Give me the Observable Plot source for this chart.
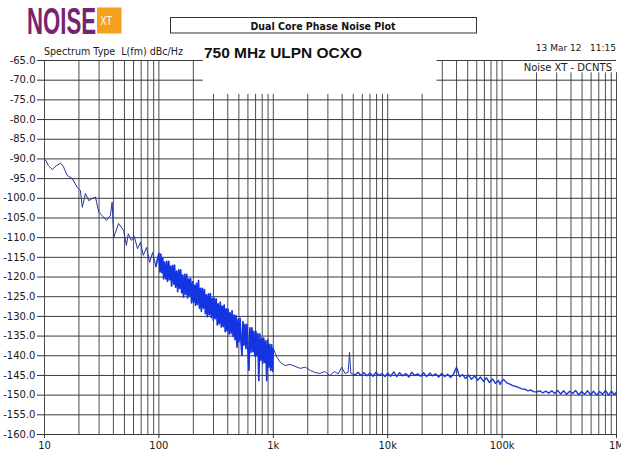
<!DOCTYPE html>
<html>
<head>
<meta charset="utf-8">
<script src="https://cdn.jsdelivr.net/npm/d3@7"></script>
<script src="https://cdn.jsdelivr.net/npm/@observablehq/plot@0.6"></script>
<style>
  body { margin: 0; background: #fff; }
  #wrap { position: relative; width: 621px; height: 454px; overflow: hidden; background: #fff; }
  #wrap svg.overlay { position: absolute; left: 0; top: 0; pointer-events: none; }
</style>
</head>
<body>
<div id="wrap"></div>
<script>
// Single-sideband phase noise L(f), [offset frequency Hz, level dBc/Hz]
const closeIn = [
  [10, -90.2], [10.3, -90.4], [10.8, -91.7], [11.7, -92.7], [12.7, -91.7], [13.8, -91.1],
  [14.6, -91.9], [15.8, -94.2], [17.5, -95.0], [19.3, -97.2], [20.6, -98.0], [21.4, -102.3],
  [22.8, -98.8], [24.4, -100.6], [26.1, -100.1], [27.9, -99.7], [29.8, -103.5], [31.9, -104.4],
  [34.8, -105.6], [37.6, -104.4], [39.0, -101.0], [40.3, -109.9], [44.4, -106.4], [49.2, -108.2],
  [52, -112.0], [54, -109.0], [57.5, -110.7], [61, -109.7], [65, -112.8], [69, -111.2],
  [73, -114.5], [78, -112.5], [83, -116.3], [88, -113.8], [94, -117.3]
];

// 100 Hz .. 1 kHz: dense FFT bins, alternating upper / lower edge of the trace
const denseBand = [
  [100, -114.0], [102, -118.7], [104, -114.2], [106, -118.9], [108, -115.1], [110, -120.5],
  [112, -116.2], [115, -120.5], [117, -116.0], [119, -121.1], [122, -116.0], [124, -120.7],
  [127, -117.2], [129, -122.3], [132, -117.1], [135, -121.8], [137, -117.0], [140, -122.6],
  [143, -118.5], [146, -123.7], [149, -118.2], [152, -122.9], [155, -118.2], [158, -124.0],
  [161, -119.5], [164, -125.1], [168, -119.3], [171, -124.4], [175, -119.3], [178, -125.3],
  [182, -120.5], [185, -124.9], [189, -120.4], [193, -126.6], [197, -121.2], [201, -126.4],
  [205, -122.1], [209, -127.2], [213, -121.6], [217, -127.0], [222, -120.9], [226, -127.9],
  [231, -122.9], [235, -128.7], [240, -122.9], [245, -127.9], [250, -123.2], [255, -129.3],
  [260, -124.5], [265, -130.1], [271, -124.3], [276, -129.6], [282, -124.2], [287, -130.3],
  [293, -125.5], [299, -131.0], [305, -125.4], [311, -130.6], [317, -125.6], [324, -132.2],
  [330, -126.8], [337, -131.9], [344, -126.4], [351, -132.7], [358, -127.4], [365, -132.6],
  [372, -127.1], [380, -133.9], [387, -128.1], [395, -133.7], [403, -128.2], [411, -134.5],
  [419, -129.1], [428, -134.3], [436, -128.6], [445, -135.1], [454, -129.7], [463, -135.9],
  [472, -129.8], [482, -137.8], [492, -130.7], [501, -136.4], [512, -130.5], [522, -136.4],
  [532, -139.9], [543, -131.3], [554, -137.3], [565, -132.0], [577, -138.2], [588, -132.0],
  [600, -138.1], [612, -143.7], [624, -132.9], [637, -139.1], [650, -132.9], [663, -139.0],
  [676, -133.8], [690, -140.1], [704, -133.8], [718, -140.0], [732, -134.4], [747, -146.3],
  [762, -134.5], [777, -141.1], [793, -135.6], [809, -141.9], [825, -135.5], [841, -141.7],
  [858, -136.2], [876, -146.3], [893, -136.0], [911, -142.9], [929, -137.1], [948, -143.7],
  [967, -137.2], [986, -143.9], [1000, -138.2]
];

// 1 kHz .. 5 kHz
const midRange = [
  [1077, -140.4], [1155, -141.7], [1270, -142.5], [1400, -142.2], [1550, -142.7], [1720, -143.2],
  [1900, -142.9], [2100, -143.7], [2300, -144.2], [2550, -144.5], [2820, -144.0], [3100, -145.0],
  [3430, -144.0], [3700, -144.6], [3960, -142.9], [4240, -144.5], [4510, -144.2], [4640, -139.1],
  [4760, -144.5], [5200, -144.8]
];

// 5 kHz .. 1 MHz: noise floor
const noiseFloor = [
  [5500, -144.2], [5840, -145.0], [6200, -144.3], [6590, -145.1], [7000, -144.4], [7430, -145.2],
  [7890, -144.2], [8380, -145.0], [8900, -144.5], [9450, -145.3], [10000, -144.4], [10600, -145.2],
  [11300, -144.1], [12000, -145.3], [12700, -144.3], [13500, -145.1], [14400, -144.5], [15300, -145.4],
  [16200, -144.2], [17200, -145.0], [18300, -144.6], [19400, -145.2], [20600, -144.3], [21900, -145.3],
  [23300, -144.4], [24700, -145.1], [26300, -144.6], [27900, -145.4], [29600, -144.5], [31500, -145.3],
  [33400, -144.7], [35500, -145.5], [37700, -144.6], [40000, -142.9], [42500, -145.3], [45100, -144.8],
  [47900, -145.8], [50900, -144.9], [54100, -146.0], [57400, -145.1], [61000, -146.2], [64800, -145.4],
  [68800, -146.5], [73000, -145.6], [77600, -146.8], [82400, -145.9], [87500, -147.0], [92900, -146.3],
  [96100, -147.3], [98600, -146.6], [103000, -146.0], [110000, -146.9], [117000, -147.2], [124000, -147.6],
  [132000, -147.8], [140000, -148.1], [149000, -148.4], [158000, -148.5], [168000, -148.9], [178000, -148.7],
  [189000, -149.1], [201000, -149.2], [213000, -148.9], [227000, -149.4], [241000, -149.0], [256000, -149.5],
  [272000, -148.9], [288000, -149.6], [306000, -148.8], [325000, -149.7], [345000, -148.9], [367000, -149.8],
  [390000, -149.0], [414000, -149.6], [439000, -148.8], [467000, -149.9], [496000, -149.1], [526000, -149.8],
  [559000, -148.9], [594000, -149.9], [630000, -149.0], [670000, -150.0], [711000, -149.1], [755000, -149.8],
  [802000, -148.8], [851000, -150.0], [904000, -149.0], [960000, -149.9], [1000000, -149.2]
];

// Axis ticks
const yTicks = [-65, -70, -75, -80, -85, -90, -95, -100, -105, -110, -115, -120, -125, -130, -135, -140, -145, -150, -155, -160];
const xTicks = [10, 100, 1000, 10000, 100000, 1000000];
const xTickLabels = ["10", "100", "1k", "10k", "100k", "1M"];

// trace pieces, each joined to the end of the previous one
const pieces = [
  {pts: closeIn, stroke: "#22339e", width: 1},
  {pts: denseBand, stroke: "#1434e2", width: 1.7},
  {pts: midRange, stroke: "#2c3ca8", width: 1},
  {pts: noiseFloor, stroke: "#1a38d6", width: 1.4}
].map((p, i, all) => ({
  ...p,
  data: (i > 0 ? [all[i - 1].pts[all[i - 1].pts.length - 1], ...p.pts] : p.pts).map(([f, L]) => ({f, L}))
}));

// log grid: 1..9 per decade
const gridFreqs = [10, 100, 1000, 10000, 100000]
  .flatMap(d => [1, 2, 3, 4, 5, 6, 7, 8, 9].map(m => d * m))
  .concat([1000000]);
// the header labels sit on clear patches of the grid
const gridTop = f => (f > 245 && f < 27000) ? -73.6 : (f > 150000 ? -68.1 : -65);
const fullRows = yTicks.filter(v => v <= -75);
const headerRows = yTicks.filter(v => v > -75);

const font = "'DejaVu Sans', Verdana, sans-serif";

const chart = Plot.plot({
  width: 621,
  height: 454,
  marginLeft: 44,
  marginRight: 5,
  marginTop: 60,
  marginBottom: 20,
  x: {type: "log", domain: [10, 1000000]},
  y: {domain: [-160, -65]},
  style: {fontFamily: font, fontSize: "10px", color: "#1a1a1a", background: "transparent"},
  marks: [
    Plot.ruleX(gridFreqs, {x: d => d, y1: d => gridTop(d), y2: -160, stroke: "#4d4d4d", strokeWidth: 1}),
    Plot.ruleY(fullRows, {y: d => d, x1: 10, x2: 1000000, stroke: "#3a3a3a", strokeWidth: 1}),
    Plot.ruleY(headerRows, {y: d => d, x1: 10, x2: 245, stroke: "#3a3a3a", strokeWidth: 1}),
    Plot.ruleY(headerRows, {y: d => d, x1: 27000, x2: 1000000, stroke: "#3a3a3a", strokeWidth: 1}),
    ...pieces.map(p => Plot.line(p.data, {x: "f", y: "L", stroke: p.stroke, strokeWidth: p.width})),
    Plot.axisY({ticks: yTicks, tickFormat: d => d.toFixed(1), tickSize: 7, tickPadding: 2, label: null, stroke: "#333"}),
    Plot.axisX({ticks: xTicks, tickFormat: d => xTickLabels[xTicks.indexOf(d)], tickSize: 4, tickPadding: 3, label: null, stroke: "#333"})
  ]
});

const wrap = document.getElementById("wrap");
wrap.appendChild(chart);

// Header: logo, title box, measurement labels
const svg = d3.create("svg")
  .attr("class", "overlay")
  .attr("width", 621)
  .attr("height", 454);

svg.append("text")
  .attr("x", 27).attr("y", 34)
  .attr("textLength", 69).attr("lengthAdjust", "spacingAndGlyphs")
  .style("font", "bold 36px 'Liberation Sans', Arial, sans-serif")
  .attr("fill", "#76246f")
  .text("NOISE");
svg.append("rect")
  .attr("x", 97).attr("y", 7.5).attr("width", 24.5).attr("height", 26)
  .attr("fill", "#f5a01f");
svg.append("text")
  .attr("x", 100.5).attr("y", 25)
  .attr("textLength", 11.5).attr("lengthAdjust", "spacingAndGlyphs")
  .style("font", "13px 'Liberation Sans', Arial, sans-serif")
  .attr("fill", "#fff")
  .text("XT");

svg.append("rect")
  .attr("x", 170.5).attr("y", 17.5).attr("width", 306).attr("height", 15.5)
  .attr("fill", "#fff").attr("stroke", "#333").attr("stroke-width", 1);
svg.append("text")
  .attr("x", 323).attr("y", 29.5).attr("text-anchor", "middle")
  .attr("textLength", 145).attr("lengthAdjust", "spacingAndGlyphs")
  .style("font", `bold 10px ${font}`)
  .attr("fill", "#111")
  .text("Dual Core Phase Noise Plot");

svg.append("text")
  .attr("x", 44).attr("y", 55)
  .attr("textLength", 139).attr("lengthAdjust", "spacingAndGlyphs")
  .style("font", `10px ${font}`).style("white-space", "pre")
  .attr("fill", "#1a1a1a")
  .text("Spectrum Type  L(fm) dBc/Hz");

svg.append("text")
  .attr("x", 204).attr("y", 58.3)
  .attr("textLength", 158).attr("lengthAdjust", "spacingAndGlyphs")
  .style("font", "bold 15.5px 'Liberation Sans', Arial, sans-serif")
  .attr("fill", "#111")
  .text("750 MHz ULPN OCXO");

svg.append("text")
  .attr("x", 616).attr("y", 51).attr("text-anchor", "end")
  .style("font", `9px ${font}`).style("white-space", "pre")
  .attr("fill", "#1a1a1a")
  .text("13 Mar 12   11:15");

svg.append("text")
  .attr("x", 612).attr("y", 71).attr("text-anchor", "end")
  .style("font", `10px ${font}`)
  .attr("fill", "#1a1a1a")
  .text("Noise XT - DCNTS");

wrap.appendChild(svg.node());
</script>
</body>
</html>
